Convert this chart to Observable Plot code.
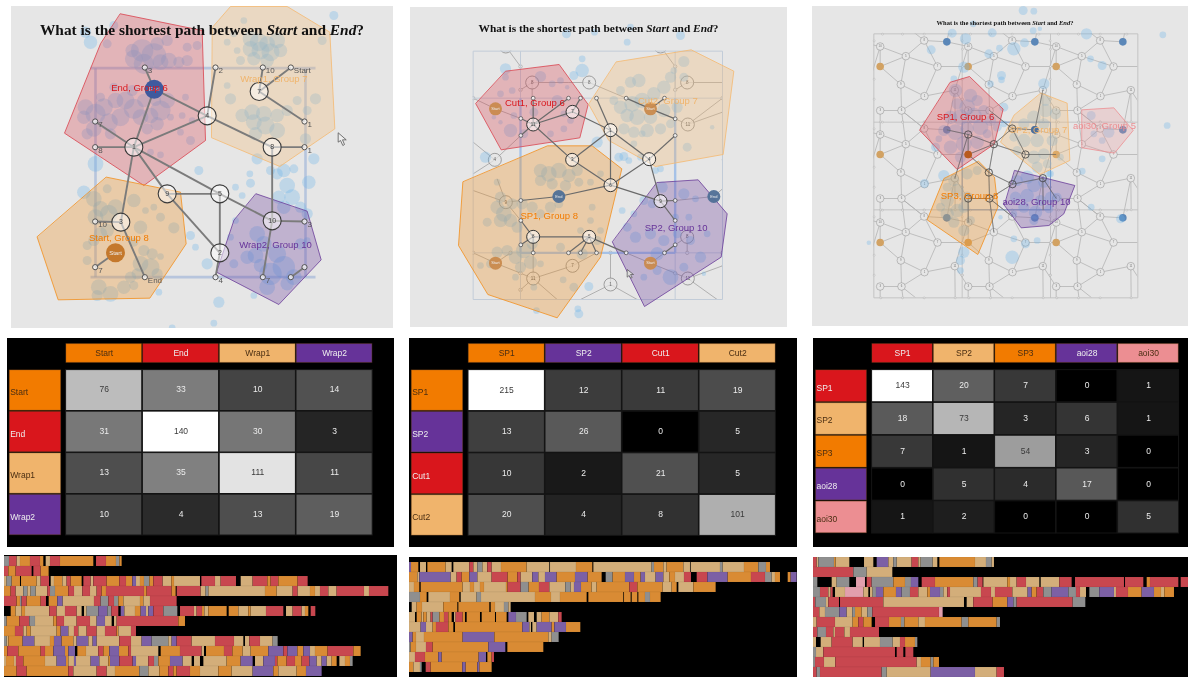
<!DOCTYPE html>
<html><head><meta charset="utf-8">
<script src="https://cdn.jsdelivr.net/npm/d3@7"></script>
<script src="https://cdn.jsdelivr.net/npm/@observablehq/plot@0.6"></script>
<style>
html,body{margin:0;padding:0;background:#fff;width:1188px;height:677px;overflow:hidden}
#root{position:relative;width:1188px;height:677px;overflow:hidden}
.pane{position:absolute}
.pane svg{display:block;filter:blur(.45px)}
.pane.soft svg{filter:blur(.65px)}
.ttl{position:absolute;left:0;right:0;text-align:center;font-family:"Liberation Serif",serif;font-weight:bold;color:#111;white-space:nowrap;filter:blur(.3px)}
</style></head><body><div id="root"></div>
<script>
// ---------- colours by area of interest
const ORANGE="#f27b00",RED="#d9161c",TAN="#f0b46c",PURPLE="#663399",PINK="#ec8e92";

// ---------- transition matrices
const m1Names=["Start","End","Wrap1","Wrap2"];
const m1Colors=[ORANGE,RED,TAN,PURPLE];
const m1Values=[[76,33,10,14],[31,140,30,3],[13,35,111,11],[10,4,13,19]];
const m2Names=["SP1","SP2","Cut1","Cut2"];
const m2Colors=[ORANGE,PURPLE,RED,TAN];
const m2Values=[[215,12,11,19],[13,26,0,5],[10,2,21,5],[20,4,8,101]];
const m3Names=["SP1","SP2","SP3","aoi28","aoi30"];
const m3Colors=[RED,TAN,ORANGE,PURPLE,PINK];
const m3Values=[[143,20,7,0,1],[18,73,3,6,1],[7,1,54,3,0],[0,5,4,17,0],[1,2,0,0,5]];

// ---------- scanning sequences: code + end time of each dwell
const t1Rows=[
"g27 r50 t60 o90 r120 o130 x137 t150 r180 o280 x288 r318 o348 g358 o365",
"r25 o47 r95 x100 r122 o146",
"t20 g35 o60 x63 o110 t122 r147 x152 t162 o187 t200 r212 o245 x250 r272 t280 r320 o358 r378 o397 p408 t420 o432 g448 o460 r488 t514 o522 t600 x604 r645 t662 r708 x722 t758 r802 o812 r835 o893 r923",
"o32 r47 t70 g82 t92 g107 t142 r150 g165 o205 r222 t247 r270 t290 r305 o318 r432 o440 r515 o527 x530 r602 t617 g625 t795 o830 t878 r893 t930 o945 t960 r985 t1010 r1092 t1107 r1165",
"r50 o60 g65 r80 o122 r138 x146 o172 p188 t282 r302 g325 r342 g355 o370 t420 o430 t450 r530",
"x32 o47 t65 o75 t148 r170 t195 r230 t245 x252 t260 g295 p322 g334 r355 x362 p373 t405 o422 p438 t445 p460 r490 g532 x540 r582 t590 r606 o613 t625 o680 x686 o715 t745 o752 t798 r850 x858 t878 r905 t915 o925 x932 r946",
"g20 o58 r88 g105 t160 o170 r192 t230 r270 t290 p315 t335 x342 t350 r535 o555",
"o45 r70 t80 o92 t170 o182 p205 t222 r235 t260 r290 t315 r350 o355 t393 r408",
"g20 t25 o68 p103 t150 o162 p185 o220 t230 p265 t278 p290 t358 r393 t425 p455 g505 t515 p530 r575 t645 r702 t730 x735 t748 r780 t818 g833",
"o22 r55 o122 r135 o160 p195 o205 p225 x232 o258 t295 r310 o328 p357 o385 r393 t475 x482 o540 r605 t612 x618 o672 r697 o728 t752 o805 p850 r862 p892 o910 p930 t945 o983 r1060 o1082",
"t18 o42 t48 r70 o135 t170 p198 o205 t222 p228 t272 p298 t325 o330 p358 r398 p408 t445 r462 g475 o510 p548 t575 x582 t600 x610 t680 o722 p758 x765 t790 p825 r832 o860 r885 o905 r928 p950 t965 p980 t995 o1010 x1018 t1035 o1050 g1058",
"o50 r80 o205 r220 t290 r320 t345 o418 g445 t478 o505 r520 o530 r570 o600 t655 o695 t758 p820 o835 t890 o918 p965"];
const t2Rows=[
"p33 o55 x60 t78 x82 o137 t155 x160 t208 r220 t232 g247 t262 r275 t303 o380 t448 x450 t528 o577 x580 t755 g762 o790 t800 o850 t870 x872 t960 g968 t1032 o1075 g1098 o1110",
"o52 t58 p152 t170 r185 o208 p232 t275 r323 o352 r362 t397 p415 t435 p470 o525 p563 o605 x617 g638 o675 p702 o722 p735 t767 p790 t808 o825 t852 r873 x890 r922 p983 o1053 r1095 g1115 t1125 o1140 x1163 o1172 p1190",
"t42 o58 x62 o188 t210 o222 t240 o252 t318 o323 r362 g386 o417 r448 t496 g512 t522 p543 o575 t590 o688 r712 o788 t815 o830 x835 t880 o947",
"g60 o80 x85 t150 o178 x182 t230 g243 t405 o453 t480 o560 x565 o670 x672 o692 x695 o712 x715 o735 g750 o782",
"x35 t50 o66 t130 o172 x175 o268 x272 o285 t312 g325 t332",
"t45 x50 o65 t70 o80 t92 r98 g118 o132 r145 o155 x162 t167 r188 o195 x200 o240 x245 o285 x288 o320 x325 p348 g380 x385 t402 x410 t425 o448 t475 r485",
"t62 p78 t98 o108 r145 o160 x165 o367 p388 t393 x397 t410 p455 o463 p498 o541",
"p38 o48 t72 o188 p283 o445 t455 g476",
"g32 o48 t78 r98 o265 p316 x322 o430",
"t45 r75 o115 p125 o236 p258 x262 o275 r282",
"o40 t60 g65 x77 r92 o187 p197 o232 p238 o275"];
const t3Rows=[
"r50 t55 g102 o107 t148 x192 t220 x230 p265 t280 g290 t335 r355 t362 g398 t412 x418 o525 t558 g575 t582",
"r160 g200 t277",
"g52 x95 t110 g148 x168 k195 x200 r215 g280 o315 g333 p355 x365 r405 o520 g533 r548 x550 t622 o630 t650 r678 t718 x722 t778 r815 x825 r972 x975 r1030 x1040 o1050 r1135 x1142 r1164",
"g60 r85 t92 r98 x105 t135 k190 t205 x210 t218 g228 p250 o288 p305 g330 r355 t382 o390 p420 g430 t442 r450 t543 r573 t585 r637 t683 p695 o710 r730 g755 p805 g828 r840 t858 x868 g898 p942 t948 r984 o1025 p1062 o1083 t1093 o1122",
"r46 g78 t85 r117 x120 r250 t492 x500 t520 r578 o622 p640 g650 r818 g856",
"r58 t75 g118 p140 t157 g165 o185 t202 g217 r417 k428",
"t50 r105 t158 o175 r190 o215 x225 r267 o303 g313 o355 t375 o485 g505 o590 g600",
"r52 g78 r100 t105 r133 t150 r237",
"t48 x62 t95 r158 t188 x192 t240 g278 t300 r315 o345 g352",
"g48 t70 r285 x290 r310 x316 r340",
"g45 r72 t106 r350 t363 o392 g400 o417",
"r50 g60 r245 g260 t392 p525 t590 r612"];
const seqCodes=["o","r","t","p","g","k"];
const seqColors=["#d98b34","#c8474f","#d3ae7a","#7c60a5","#8f8f8f","#e29fad"];

// ---------- stimulus 1
const s1Red=[[360,40],[605,90],[615,420],[430,555],[192,398],[300,130]];
const s1Tan=[[636,80],[690,18],[860,18],[988,95],[1003,385],[838,498],[634,412]];
const s1Orange=[[318,530],[540,575],[557,730],[448,893],[173,898],[110,710]];
const s1Purple=[[767,580],[920,632],[962,778],[835,912],[648,815],[700,660]];
const s1Labels=[[417,262,"End, Group 6",RED],[820,236,"Wrap1, Group 7",TAN],[355,712,"Start, Group 8",ORANGE],[825,733,"Wrap2, Group 10",PURPLE]];
const s1Big=[[400,440,"1"],[620,346,"4"],[776,273,"7"],[815,440,"8"],[500,580,"9"],[658,580,"5"],[361,665,"3"],[815,661,"10"],[658,757,"2"]];
const s1Small=[[433,201,"3"],[645,201,"2"],[787,201,"10"],[871,201,"Start"],[912,363,"1"],[912,440,"1"],[912,663,"3"],[912,800,""],[871,830,""],[787,830,"7"],[645,830,"4"],[433,830,"End"],[284,800,"7"],[284,663,"10"],[284,440,"8"],[284,363,"7"]];
const s1Start=[[345,757]];
const s1End=[[461,266]];
const s1Edges=[[400,440,461,266],[400,440,620,346],[461,266,620,346],[461,266,433,201],[620,346,645,201],[620,346,815,440],[815,440,912,440],[776,273,871,201],[776,273,787,201],[776,273,912,363],[815,440,815,661],[400,440,284,363],[400,440,284,440],[400,440,361,665],[400,440,500,580],[400,440,658,580],[500,580,658,580],[500,580,658,757],[658,580,658,757],[658,580,815,661],[815,661,912,663],[815,661,787,830],[658,757,645,830],[912,800,871,830],[361,665,284,663],[361,665,433,830],[345,757,284,800]];
const s1Wrap=[[270,203,945,203],[915,203,915,830],[270,830,945,830],[285,203,285,830]];
const s1Cursor=[[1013,398],[1013,425],[1020,420],[1027,435],[1032,432],[1026,418],[1036,418]];
const s1Fix=[[270,125,6],[255,95,5],[340,75,4],[320,130,4],[425,150,10],[460,165,11],[400,175,8],[430,190,9],[480,185,7],[505,180,7],[535,185,5],[560,140,4],[500,120,5],[470,130,6],[395,150,6],[560,180,5],[590,135,4],
[255,320,7],[285,340,9],[310,320,8],[345,300,7],[375,300,8],[400,325,9],[360,350,8],[325,365,8],[280,385,7],[250,350,6],[420,350,7],[450,345,7],[480,330,9],[500,300,7],[470,370,6],[440,385,5],[510,350,3],[545,345,3],[570,420,4],[575,360,3],[555,290,3],[465,300,5],[430,300,6],[395,270,5],[340,260,4],[300,290,4],[330,400,5],[260,400,5],[285,490,7],[450,455,3],[480,463,3],[540,395,3],
[750,115,7],[775,125,8],[800,130,7],[830,120,7],[750,145,7],[780,150,8],[810,155,8],[840,150,6],[760,175,6],[800,180,6],[710,150,3],[680,125,3],[690,295,5],[720,180,4],[680,255,3],[945,295,5],[965,120,4],[1000,45,4],[725,345,6],[755,335,7],[790,340,7],[830,345,6],[760,365,7],[795,375,8],[830,390,7],[765,400,6],[860,330,5],[920,330,4],[890,300,4],[700,100,3],[730,60,3],
[915,415,5],[940,475,5],[925,545,6],[750,548,4],[748,520,3],[770,475,5],[850,510,6],[830,520,5],[880,505,4],[810,510,4],[860,555,7],[835,590,6],[875,590,7],[900,620,5],[850,620,6],[595,510,4],[570,705,4],[585,740,3],[705,560,3],[725,585,3],[620,790,5],
[250,575,6],[280,595,7],[320,565,4],[300,625,7],[325,640,8],[285,650,7],[345,620,7],[400,600,6],[435,630,3],[520,682,5],[460,620,3],[480,650,4],[420,680,6],[300,700,6],[320,690,6],[280,720,5],[400,725,4],[430,750,5],[455,760,5],[480,768,3],[420,790,7],[450,800,8],[470,820,5],[410,820,5],[390,830,5],[295,860,7],[330,880,7],[290,885,5],[370,860,6],[400,855,4],[260,780,4],[260,735,4],[475,875,3],
[655,905,5],[640,968,3],[515,982,3],[765,765,7],[740,770,6],[770,700,7],[790,730,7],[830,760,8],[850,800,10],[810,820,10],[880,830,7],[860,850,6],[800,860,7],[780,795,6],[760,885,3],[900,730,5],[920,640,5],[920,720,3],[700,790,4],[690,710,3],[705,660,3]];

// ---------- stimulus 2
const s2Red=[[316,212],[476,192],[563,312],[538,412],[302,448],[226,310]];
const s2Tan=[[648,184],[872,148],[1000,212],[968,462],[765,498],[625,420],[565,312]];
const s2Orange=[[442,436],[575,436],[664,505],[600,770],[470,952],[262,882],[174,735],[187,545]];
const s2Purple=[[770,546],[893,538],[980,640],[962,770],[732,918],[636,725]];
const s2Labels=[[403,306,"Cut1, Group 6",RED],[802,300,"Cut2, Group 7",TAN],[446,645,"SP1, Group 8",ORANGE],[827,682,"SP2, Group 10",PURPLE]];
const s2Big=[[398,372,"11"],[516,334,"7"],[630,389,"1"],[515,478,"3"],[746,476,"4"],[630,554,"6"],[780,602,"9"],[398,709,"8"],[566,709,"5"]];
const s2Small=[[398,293],[361,354],[361,405],[504,293],[540,293],[588,293],[677,293],[792,293],[824,355],[824,405],[361,600],[824,600],[824,660],[361,660],[361,733],[398,757],[504,757],[540,757],[588,757],[677,757],[792,757],[824,733]];
const s2Faint=[[395,246,"8"],[566,246,"8"],[860,246,"8"],[862,372,"11"],[283,478,"4"],[316,605,"9"],[516,796,"7"],[398,834,"11"],[862,834,"11"],[630,852,"1"],[860,709,"8"],[316,138,""],[780,138,""],[985,335,""],[985,478,""],[985,796,""]];
const s2FaintSmall=[[360,198],[824,198],[360,268],[824,268],[360,818],[360,868],[824,818],[330,757],[218,293],[966,293],[218,757],[966,757],[860,757],[630,757]];
const s2Starts=[[285,325],[750,325],[285,788],[750,788]];
const s2Ends=[[475,588],[940,588]];
const s2Edges=[[677,293,750,325],[792,293,750,325],[750,325,824,355],[398,293,398,372],[398,372,361,354],[398,372,361,405],[398,372,504,293],[398,372,516,334],[516,334,540,293],[516,334,630,389],[630,389,588,293],[630,389,515,478],[630,389,746,476],[630,389,630,554],[398,372,515,478],[515,478,630,554],[630,554,746,476],[746,476,824,405],[746,476,780,602],[630,554,780,602],[780,602,824,600],[780,602,824,660],[630,554,475,588],[475,588,361,600],[398,709,566,709],[398,709,361,660],[398,709,361,733],[398,709,398,757],[566,709,504,757],[566,709,540,757],[566,709,588,757],[566,709,677,757],[792,757,824,733]];
const s2FaintEdges=[[395,246,360,268],[395,246,395,293],[395,246,504,246],[566,246,677,293],[566,246,504,246],[860,246,824,268],[860,246,966,246],[862,372,824,355],[862,372,966,335],[862,372,966,293],[283,478,361,405],[283,478,218,425],[283,478,218,520],[316,605,361,600],[316,605,290,535],[316,605,218,570],[316,605,361,660],[285,325,361,354],[285,325,218,293],[285,788,218,757],[285,788,330,757],[285,788,360,818],[398,834,360,818],[398,834,516,796],[398,834,398,757],[398,834,470,897],[516,796,588,757],[630,852,540,897],[630,852,630,757],[630,852,710,897],[862,834,824,818],[862,834,966,796],[862,834,950,897],[860,709,824,733],[860,709,860,757],[940,588,824,600],[940,588,966,565],[780,138,824,198],[316,138,360,198],[360,198,360,268],[824,198,824,268],[750,788,677,757],[750,788,792,757],[750,788,824,818],[360,868,398,834]];
const s2Outer=[[30,21,1161,152],[30,897,1161,981],[30,152,218,897],[966,152,1161,897]];
const s2Grid=[[218,152,966,152],[218,897,966,897],[218,152,218,897],[966,152,966,897],[360,152,360,897],[824,152,824,897],[218,293,966,293],[218,757,966,757]];
const s2Wrap=[[360,293,360,757],[824,293,824,757],[360,757,824,757]];
const s2Cursor=[[680,808],[680,830],[686,825],[691,833],[695,831],[690,822],[698,822]];
const s2Fix=[[498,100,4],[582,95,3],[690,80,3],[680,125,3],[840,105,4],[545,210,6],[520,225,4],[545,175,3],[535,940,4],[532,925,3],[565,858,4],[408,930,3],[255,470,5],[590,425,5],[670,468,4],[655,470,4],[685,480,3],[720,470,3],[765,510,3],[780,505,3],[665,630,3],[315,205,5],[315,230,3],
[420,228,5],[330,390,6],[455,250,3],[300,365,2],[280,350,2],[370,400,4],[450,400,3],[490,385,3],[510,360,3],[470,300,5],[490,340,3],[335,270,3],[300,280,3],[340,345,3],[480,240,3],[500,260,2],[400,335,4],
[850,183,5],[810,230,5],[715,240,6],[690,245,5],[660,270,4],[640,300,4],[660,320,6],[695,310,7],[725,300,7],[760,280,6],[790,260,6],[680,345,6],[710,350,7],[750,350,6],[790,330,6],[830,320,5],[670,385,5],[700,395,5],[740,390,6],[780,385,5],[810,370,4],[860,440,4],[700,430,3],[725,400,3],[850,230,4],[935,380,2],[820,210,3],
[420,510,6],[445,520,7],[475,510,7],[505,525,6],[530,510,5],[420,540,5],[455,550,5],[495,555,5],[535,545,4],[570,545,3],[600,520,3],[300,590,5],[290,620,6],[310,640,7],[335,610,5],[330,660,6],[300,660,6],[260,665,4],[290,545,3],[350,680,5],[365,610,5],[395,620,5],[420,640,4],[450,620,5],[475,610,4],[370,750,7],[395,730,5],[345,770,6],[320,750,5],[290,755,5],[270,790,4],[240,795,3],[390,785,6],[360,800,5],[420,790,3],[480,740,4],[520,860,4],[488,838,3],[545,760,5],[570,660,3],[575,620,3],[540,690,3],[590,720,4],[600,690,3],[345,830,3],[400,860,3],
[785,560,5],[850,580,5],[885,595,3],[755,610,4],[730,600,4],[705,710,5],[680,680,4],[750,700,5],[790,720,5],[830,700,4],[870,720,4],[770,760,6],[810,830,7],[770,810,4],[730,830,3],[850,800,4],[900,770,5],[920,700,3],[865,650,3],[700,640,3],[910,820,2],[825,650,3]];

// ---------- stimulus 3 (the tile repeats three times each way)
const s3Red=[[450,245],[507,228],[608,326],[581,431],[470,507],[358,390]];
const s3Tan=[[722,278],[800,308],[808,480],[718,522],[600,425],[640,345]];
const s3Orange=[[535,483],[582,530],[592,620],[532,762],[380,658],[430,535]];
const s3Purple=[[643,510],[823,555],[790,640],[745,675],[662,682],[612,615]];
const s3Pink=[[845,328],[940,322],[998,390],[942,458],[845,442]];
const s3Labels=[[495,348,"SP1, Group 6",RED],[714,387,"SP2, Group 7",TAN],[507,587,"SP3, Group 8",ORANGE],[708,605,"aoi28, Group 10",PURPLE],[912,377,"aoi30, Group 5",PINK]];
const s3TileNodes=[[503,402,"10"],[635,384,"8"],[580,431,"5"],[675,462,"7"],[565,516,"9"],[636,551,"1"],[503,594,"3"],[567,594,"6"],[727,533,"11"]];
const s3TileSmall=[[485,385],[485,500],[485,560],[750,410],[750,462],[750,560],[510,365],[570,365],[635,365],[715,365],[505,628],[570,628],[635,628],[728,628]];
const s3TileStart=[[503,462]];
const s3TileEnd=[[703,388]];
const s3TileEdges=[[503,402,580,431],[503,402,503,462],[503,462,580,431],[580,431,635,384],[635,384,675,462],[580,431,675,462],[580,431,565,516],[565,516,636,551],[565,516,567,594],[675,462,636,551],[636,551,727,533],[636,551,567,594],[567,594,503,594],[565,516,503,462],[675,462,767,462],[727,533,767,594],[567,594,635,648],[503,594,503,666],[567,594,580,695],[703,388,727,269],[703,388,635,384],[635,384,567,330],[727,533,728,628],[503,402,439,388],[503,402,463,533]];
const s3Grid=[[220,100,1012,100],[220,892,1012,892],[220,100,220,892],[1012,100,1012,892],[485,100,485,892],[750,100,750,892],[220,365,1012,365],[220,628,1012,628]];
const s3Wrap=[[485,365,750,365],[485,628,750,628],[485,365,485,628],[750,365,750,628]];
const s3Outer=[[36,18,1164,100],[36,892,1164,978],[36,100,220,892],[1012,100,1164,892]];
const s3Shifts=[-264,0,264];
const s3Fix=[[1087,103,3],[1100,375,3],[455,98,4],[495,115,5],[575,97,4],[640,145,6],[672,127,4],[597,143,3],[565,160,4],[698,90,3],[718,85,2],[858,100,5],[870,175,3],[905,195,4],[668,30,4],[700,32,3],[518,70,3],[392,148,4],[490,200,5],[603,225,4],[603,238,3],[570,250,3],[460,235,3],[205,727,2],[635,770,6],[640,715,3],[675,730,4],[710,720,3],[490,755,5],[480,780,4],[480,810,3],[600,650,2],[372,549,4],[430,525,5],[440,560,4],[730,250,5],[845,512,3],[872,620,3],[905,475,3],[960,655,4],[750,520,3],
[465,270,6],[510,285,6],[530,300,5],[500,320,7],[470,310,5],[450,350,6],[480,350,7],[520,345,7],[550,330,5],[430,390,5],[465,395,7],[500,385,6],[540,380,7],[570,360,5],[450,440,6],[490,430,7],[530,425,6],[480,470,5],[560,400,4],[415,415,3],[405,440,4],
[735,300,5],[735,330,6],[765,340,5],[700,350,6],[670,370,5],[730,370,5],[640,410,4],[670,420,6],[710,420,6],[755,420,5],[650,450,4],[700,470,6],[730,460,5],[740,490,4],[710,500,5],[780,470,3],[610,320,4],[590,380,4],[610,370,3],
[460,540,5],[500,520,5],[530,510,4],[470,570,6],[440,600,6],[500,590,5],[440,640,6],[470,630,6],[420,620,4],[460,665,5],[490,690,5],[510,660,4],[490,620,5],
[650,540,5],[680,530,6],[700,555,6],[730,545,5],[645,590,5],[680,585,6],[720,600,5],[750,590,5],[670,620,5],[705,635,6],[745,625,4],[700,660,4],[640,640,3],[770,590,4],[745,520,3],
[872,345,4],[925,395,5],[905,420,3],[880,400,3]];

// ---------- drawing helpers
const root=document.getElementById("root");
function place(node,left,top,soft){const d=document.createElement("div");d.className="pane"+(soft?" soft":"");d.style.left=left+"px";d.style.top=top+"px";d.appendChild(node);root.appendChild(d);return d;}
const SANS='"Liberation Sans",Arial,sans-serif';
const X=d=>d[0],Y=d=>d[1];
const links=(a,o)=>Plot.link(a,{x1:d=>d[0],y1:d=>d[1],x2:d=>d[2],y2:d=>d[3],...o});
const cover=a=>Plot.rect(a,{x1:d=>d[0],y1:d=>d[1],x2:d=>d[2],y2:d=>d[3],fill:"#e6e6e6"});
const poly=(a,fill,op=.3,sw=1)=>Plot.line(a,{x:X,y:Y,curve:"linear-closed",fill,fillOpacity:op,stroke:fill,strokeWidth:sw,strokeOpacity:.8});
const fix=a=>Plot.dot(a,{x:X,y:Y,r:d=>d[2]*1.12,fill:"#6db3ea",fillOpacity:.32,stroke:"none"});
const tag=(a,o)=>Plot.text(a,{x:X,y:Y,text:d=>d[2],fontFamily:SANS,...o});
const zoneLabels=(a,size)=>Plot.text(a,{x:X,y:Y,text:d=>d[2],fill:{value:d=>d[3],scale:null},fontSize:size,fontFamily:SANS});

function stage(left,top,w,h,xd,yd,marks){
  const p=Plot.plot({width:w,height:h,margin:0,style:{background:"#e6e6e6",overflow:"hidden"},
    x:{domain:xd,range:[0,w],axis:null},y:{domain:yd,range:[0,h],axis:null},r:{type:"identity"},marks});
  return place(p,left,top);
}
function title(pane,top,size,shift=0){const t=document.createElement("div");t.className="ttl";t.style.top=top+"px";t.style.fontSize=size+"px";t.style.transform="translateX("+shift+"px)";t.innerHTML="What is the shortest path between <i>Start</i> and <i>End</i>?";pane.appendChild(t);}

function matrix(left,top,w,h,cellLeft,cellTop,colW,rowH,labelL,labelW,headTop,headH,names,colors,values){
  const max=d3.max(values.flat());
  const cells=values.flatMap((r,i)=>r.map((v,j)=>({i,j,v})));
  const px=v=>(v-cellLeft)/colW, py=v=>(v-cellTop)/rowH;
  const dark=c=>c===ORANGE||c===TAN||c===PINK;
  const hd=names.map((t,i)=>({t,i,c:colors[i]}));
  const headY1=py(headTop),headY2=py(headTop+headH),lab1=px(labelL),lab2=px(labelL+labelW);
  const p=Plot.plot({width:w,height:h,margin:0,style:{background:"#000"},
    x:{domain:[px(left),px(left+w)],range:[0,w],axis:null},
    y:{domain:[py(top),py(top+h)],range:[0,h],axis:null},
    color:{type:"sqrt",domain:[0,max],range:["#000","#fff"]},
    marks:[
      Plot.rect(cells,{x1:"j",x2:d=>d.j+1,y1:"i",y2:d=>d.i+1,fill:"v",stroke:"#141414",strokeWidth:1,inset:.3}),
      Plot.text(cells,{x:d=>d.j+.5,y:d=>d.i+.48,text:d=>String(d.v),fontFamily:SANS,fontSize:8.5,
        fill:{value:d=>d.v/max>.35?"#3a3a3a":"#ececec",scale:null}}),
      Plot.rect(hd,{x1:"i",x2:d=>d.i+1,y1:headY1,y2:headY2,fill:{value:"c",scale:null},stroke:"#7a4a1e",strokeOpacity:.35,inset:.6}),
      Plot.text(hd,{x:d=>d.i+.5,y:(headY1+headY2)/2,text:"t",fontFamily:SANS,fontSize:8.5,fill:{value:d=>dark(d.c)?"#4a2e12":"#eee",scale:null}}),
      Plot.rect(hd,{x1:lab1,x2:lab2,y1:"i",y2:d=>d.i+1,fill:{value:"c",scale:null},stroke:"#7a4a1e",strokeOpacity:.35,inset:.6}),
      Plot.text(hd,{x:lab1,y:d=>d.i+.55,text:"t",textAnchor:"start",dx:1,fontFamily:SANS,fontSize:8.5,fill:{value:d=>dark(d.c)?"#4a2e12":"#eee",scale:null}})
    ]});
  place(p,left,top);
}

function timeline(left,top,w,h,start,end,rows,rowH){
  const segs=[];
  rows.forEach((s,row)=>{let a=start;s.split(" ").forEach(tok=>{const c=tok[0],b=+tok.slice(1);if(c!=="x")segs.push({row,c,a,b});a=b;});});
  const p=Plot.plot({width:w,height:h,margin:0,style:{background:"#000"},
    x:{domain:[start,end],range:[0,w],axis:null},
    y:{domain:d3.range(rows.length),range:[0,rows.length*rowH],padding:0,axis:null},
    color:{type:"ordinal",domain:seqCodes,range:seqColors},
    marks:[Plot.barX(segs,{x1:"a",x2:"b",y:"row",fill:"c",stroke:"#000",strokeOpacity:.08,strokeWidth:.5})]});
  place(p,left,top,true);
}

// ---------- top row
const nodeTxt="#555";
const p1=stage(11,6,382,322,[33,1179],[18,984],[
  links(s1Wrap,{stroke:"#8fa9d6",strokeOpacity:.55,strokeWidth:2.6}),
  fix(s1Fix),
  poly(s1Red,"#d9434f"),poly(s1Tan,"#f5b971"),poly(s1Orange,"#f28e1c"),poly(s1Purple,"#6a3d9a"),
  links(s1Edges,{stroke:"#7b7b7b",strokeWidth:1.9}),
  Plot.dot(s1Big,{x:X,y:Y,r:9,fill:"#fff",fillOpacity:.5,stroke:"#3a3a3a",strokeWidth:1.1}),
  Plot.dot(s1Small,{x:X,y:Y,r:2.6,fill:"#fff",fillOpacity:.7,stroke:"#444",strokeWidth:.9}),
  Plot.dot(s1Start,{x:X,y:Y,r:9.5,fill:"#c4782c"}),
  Plot.dot(s1End,{x:X,y:Y,r:9.5,fill:"#3f5a9e"}),
  tag(s1Big,{fill:"#444",fontSize:7}),
  tag(s1Small,{fill:nodeTxt,fontSize:8,textAnchor:"start",dx:3,dy:3}),
  Plot.text(s1Start,{x:X,y:Y,text:()=>"Start",fill:"#eee",fontSize:6,fontFamily:SANS}),
  Plot.text(s1End,{x:X,y:Y,text:()=>"End",fill:"#ddd",fontSize:6,fontFamily:SANS}),
  zoneLabels(s1Labels,9.5),
  Plot.line(s1Cursor,{x:X,y:Y,curve:"linear-closed",fill:"#eee",stroke:"#555",strokeWidth:.8})
]);
title(p1,15,15.4);

const p2=stage(410,7,377,320,[30,1161],[21,981],[
  links(s2FaintEdges,{stroke:"#8c8c8c",strokeOpacity:.6,strokeWidth:1}),
  Plot.dot(s2Faint,{x:X,y:Y,r:6.5,fill:"#e6e6e6",fillOpacity:.7,stroke:"#8a8a8a",strokeWidth:.8}),
  Plot.dot(s2FaintSmall,{x:X,y:Y,r:1.7,fill:"#eee",stroke:"#999",strokeWidth:.6}),
  tag(s2Faint,{fill:"#666",fontSize:4.5}),
  cover(s2Outer),
  links(s2Grid,{stroke:"#c2ccd8",strokeWidth:1}),
  links(s2Wrap,{stroke:"#a0bfe8",strokeOpacity:.9,strokeWidth:2.4}),
  fix(s2Fix),
  poly(s2Red,"#d9434f"),poly(s2Tan,"#f5b971"),poly(s2Orange,"#f28e1c"),poly(s2Purple,"#6a3d9a"),
  links(s2Edges,{stroke:"#6a6a6a",strokeWidth:1.2}),
  Plot.dot(s2Starts,{x:X,y:Y,r:6.5,fill:"#c98a4d",fillOpacity:.95}),
  Plot.dot(s2Ends,{x:X,y:Y,r:6.5,fill:"#4f6f96",fillOpacity:.95}),
  Plot.text(s2Starts,{x:X,y:Y,text:()=>"Start",fill:"#eee",fontSize:4,fontFamily:SANS}),
  Plot.text(s2Ends,{x:X,y:Y,text:()=>"End",fill:"#eee",fontSize:4,fontFamily:SANS}),
  Plot.dot(s2Big,{x:X,y:Y,r:6.5,fill:"#fff",fillOpacity:.55,stroke:"#333",strokeWidth:1}),
  Plot.dot(s2Small,{x:X,y:Y,r:1.9,fill:"#fff",fillOpacity:.8,stroke:"#444",strokeWidth:.7}),
  tag(s2Big,{fill:"#444",fontSize:4.5}),
  zoneLabels(s2Labels,9.5),
  Plot.line(s2Cursor,{x:X,y:Y,curve:"linear-closed",fill:"#ddd",stroke:"#555",strokeWidth:.7})
]);
title(p2,15,11.4);

// the tile, copied to its nine positions
const each=a=>s3Shifts.flatMap(dx=>s3Shifts.flatMap(dy=>a.map(d=>[d[0]+dx,d[1]+dy,d[2]])));
const eachEdge=s3Shifts.flatMap(dx=>s3Shifts.flatMap(dy=>s3TileEdges.map(e=>[e[0]+dx,e[1]+dy,e[2]+dx,e[3]+dy])));
const inside=a=>a.filter(d=>d[0]>=220&&d[0]<=1012&&d[1]>=100&&d[1]<=892);
const p3=stage(812,6,376,320,[36,1164],[18,978],[
  links(eachEdge,{stroke:"#a8a8a8",strokeWidth:.65}),
  cover(s3Outer),
  links(s3Grid,{stroke:"#bdbdbd",strokeWidth:.8}),
  Plot.dot(inside(each(s3TileNodes)),{x:X,y:Y,r:3.8,fill:"#e6e6e6",stroke:"#8a8a8a",strokeWidth:.5}),
  Plot.dot(inside(each(s3TileSmall)),{x:X,y:Y,r:1,fill:"#e6e6e6",stroke:"#aaa",strokeWidth:.4}),
  Plot.dot(inside(each(s3TileStart)),{x:X,y:Y,r:3.8,fill:"#d2a263"}),
  Plot.dot(inside(each(s3TileEnd)),{x:X,y:Y,r:3.8,fill:"#5b87b8"}),
  tag(inside(each(s3TileNodes)),{fill:"#777",fontSize:2.8}),
  links(s3Wrap,{stroke:"#7f9cc6",strokeWidth:1}),
  fix(s3Fix),
  poly(s3Red,"#d9434f",.3,1),poly(s3Tan,"#f5b971",.3,1),poly(s3Orange,"#f28e1c",.3,1),poly(s3Purple,"#6a3d9a",.3,1),poly(s3Pink,"#ec8e92",.25,1),
  links(s3TileEdges,{stroke:"#5f5f5f",strokeWidth:.65}),
  Plot.dot(s3TileNodes,{x:X,y:Y,r:3.6,fill:"none",stroke:"#3c3c3c",strokeWidth:.7}),
  Plot.dot(s3TileStart,{x:X,y:Y,r:3.8,fill:"#b85a1e"}),
  Plot.dot(s3TileEnd,{x:X,y:Y,r:3.8,fill:"#4a6f9e"}),
  zoneLabels(s3Labels,9.5)
]);
title(p3,13,6.5,5);

// ---------- middle row
matrix(7,338,387,209,65.3,369.3,76.8,41.5,8.7,52.5,343,20,m1Names,m1Colors,m1Values);
matrix(409,338,388,209,467.7,369.3,77,41.6,410.7,52.5,343,20,m2Names,m2Colors,m2Values);
matrix(813,338,375,209,871.3,369.3,61.5,32.8,815,52,343,20,m3Names,m3Colors,m3Values);

// ---------- bottom row
timeline(4,555,393,122,12,1191,t1Rows,10.17);
timeline(409,557,388,120,27,1191,t2Rows,10.9);
timeline(813,557,375,120,39,1164,t3Rows,10.03);
</script></body></html>
